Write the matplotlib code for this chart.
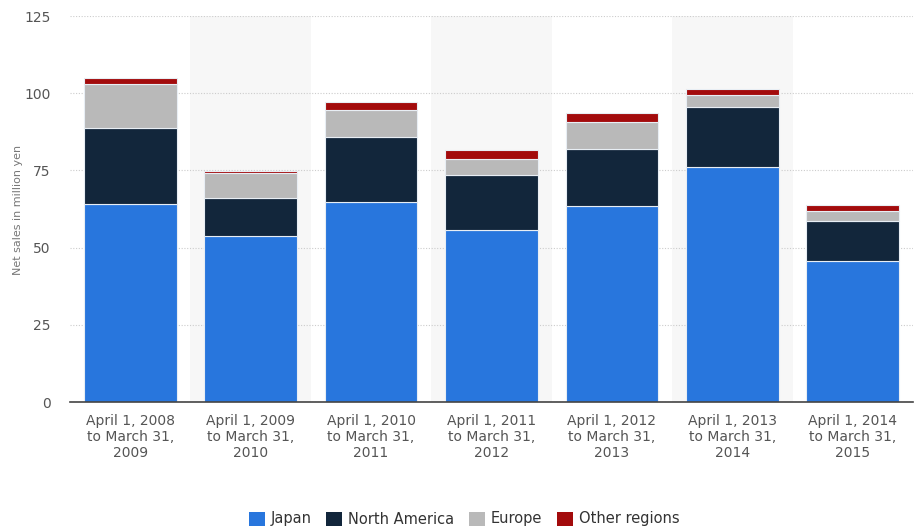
import numpy as np
import matplotlib

matplotlib.use('Agg')

import matplotlib.pyplot as plt

periods = ['April 1, 2008\nto March 31,\n2009', 'April 1, 2009\nto March 31,\n2010',
           'April 1, 2010\nto March 31,\n2011', 'April 1, 2011\nto March 31,\n2012',
           'April 1, 2012\nto March 31,\n2013', 'April 1, 2013\nto March 31,\n2014',
           'April 1, 2014\nto March 31,\n2015']
japan = [64.1, 53.8, 64.8, 55.7, 63.5, 76.1, 45.7]
north_america = [24.6, 12.3, 21.0, 17.8, 18.4, 19.4, 12.9]
europe = [14.3, 8.1, 8.8, 5.2, 8.8, 3.9, 3.3]
other = [1.9, 0.6, 2.5, 2.9, 2.9, 2.0, 1.9]

series = [('Japan', japan, '#2876dd'),
          ('North America', north_america, '#12263b'),
          ('Europe', europe, '#b9b9b9'),
          ('Other regions', other, '#a30b0c')]

narrow = 'Liberation Sans Narrow'

fig = plt.figure(figsize=(9.23, 5.29), dpi=100)
ax = fig.add_axes([70 / 923, 127 / 529, 843 / 923, 386 / 529])

x = np.arange(len(periods))
# alternating column shading
for i in x:
    if i % 2 == 1:
        ax.axvspan(i - 0.5, i + 0.5, color='#f7f7f7', zorder=0, lw=0)

bottom = np.zeros(len(periods))
handles = []
for name, vals, col in series:
    b = ax.bar(x, vals, 0.77, bottom=bottom, color=col, edgecolor='#e8eef4',
               linewidth=0.8, label=name, zorder=3)
    handles.append(b)
    bottom += np.array(vals)

ax.set_xlim(-0.5, len(periods) - 0.5)
ax.set_ylim(0, 125)
ax.set_yticks([0, 25, 50, 75, 100, 125])
ax.yaxis.grid(True, linestyle=(0, (1, 1.5)), color='#cccccc', linewidth=0.8, zorder=1)
ax.set_axisbelow(True)

for s in ['top', 'right', 'left']:
    ax.spines[s].set_visible(False)
ax.spines['bottom'].set_color('#444444')
ax.spines['bottom'].set_linewidth(1.2)
ax.spines['bottom'].set_zorder(4)

ax.tick_params(axis='y', length=0, pad=14, labelsize=10, labelcolor='#555555')
ax.tick_params(axis='x', length=0, pad=9)
ax.set_xticks(x)
ax.set_xticklabels(periods, fontsize=10, color='#555555', family=narrow, linespacing=1.15)
for lbl in ax.get_yticklabels():
    lbl.set_family(narrow)

fig.text(18 / 923, 1 - 210 / 529, 'Net sales in million yen', rotation=90, ha='center',
         va='center', fontsize=8, color='#777777')

leg = fig.legend(handles=handles, loc='center', bbox_to_anchor=(464 / 923, 1 - 519 / 529),
                 ncol=4, frameon=False, handlelength=1.1, handleheight=1.1,
                 handletextpad=0.4, columnspacing=1.0, prop={'family': narrow, 'size': 10.5})
for t in leg.get_texts():
    t.set_color('#333333')
for p in leg.legend_handles:
    p.set_edgecolor('none')

fig.savefig('out.png', dpi=100)
